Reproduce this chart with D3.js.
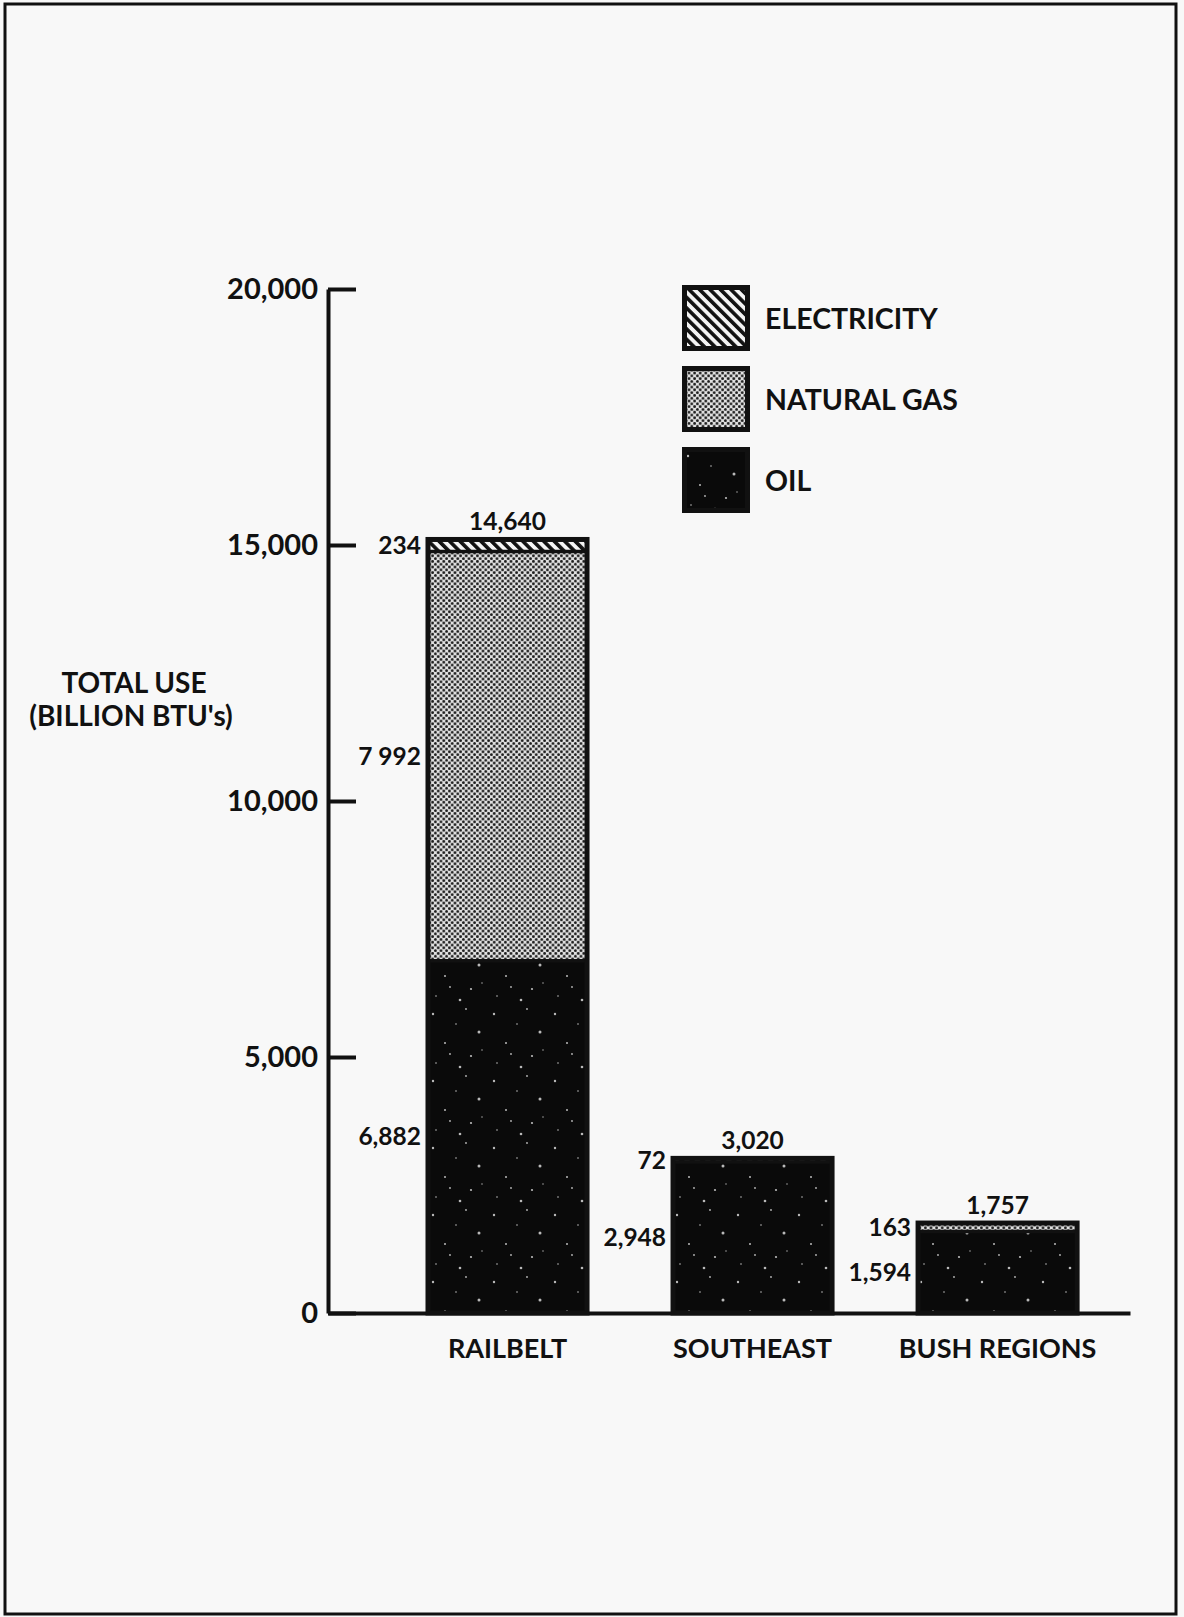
<!DOCTYPE html>
<html>
<head>
<meta charset="utf-8">
<script src="https://cdn.jsdelivr.net/npm/d3@7"></script>
<style>
  html, body { margin: 0; padding: 0; background: #f8f8f8; }
  svg { display: block; }
  text { font-family: Lato, "Open Sans", sans-serif; fill: #111; font-weight: 700; }
</style>
</head>
<body>
<svg id="chart" width="1184" height="1617"></svg>
<script>
// Energy use by region (billion BTU's), stacked by source
const categories = ["RAILBELT", "SOUTHEAST", "BUSH REGIONS"];
const oil = [6882, 2948, 1594];
const naturalGas = [7992, 0, 163];
const electricity = [234, 72, 0];
const totals = [14640, 3020, 1757];

const oilLabels = ["6,882", "2,948", "1,594"];
const gasLabels = ["7 992", "", "163"];
const elecLabels = ["234", "72", ""];
const totalLabels = ["14,640", "3,020", "1,757"];

const yTicks = [0, 5000, 10000, 15000, 20000];
const seriesKeys = ["oil", "gas", "elec"];
const legendNames = ["ELECTRICITY", "NATURAL GAS", "OIL"];
const legendKeys = ["elec", "gas", "oil"];

const rows = categories.map((c, i) => ({
  category: c, oil: oil[i], gas: naturalGas[i], elec: electricity[i],
  total: totals[i], totalLabel: totalLabels[i],
  labels: { oil: oilLabels[i], gas: gasLabels[i], elec: elecLabels[i] }
}));

const svg = d3.select("#chart");

// page frame
svg.append("rect").attr("x", 0).attr("y", 0).attr("width", 1184).attr("height", 1617).attr("fill", "#f8f8f8");
svg.append("rect").attr("x", 5).attr("y", 4).attr("width", 1171).attr("height", 1610)
  .attr("fill", "none").attr("stroke", "#111").attr("stroke-width", 3);

// fill patterns
const defs = svg.append("defs");
const hatch = defs.append("pattern").attr("id", "hatch")
  .attr("patternUnits", "userSpaceOnUse").attr("width", 7.4).attr("height", 7.4)
  .attr("patternTransform", "rotate(-45)");
hatch.append("rect").attr("width", 7.4).attr("height", 7.4).attr("fill", "#f4f4f4");
hatch.append("rect").attr("width", 3.6).attr("height", 7.4).attr("fill", "#111");

const dots = defs.append("pattern").attr("id", "dots")
  .attr("patternUnits", "userSpaceOnUse").attr("width", 5.6).attr("height", 5.6);
dots.append("rect").attr("width", 5.6).attr("height", 5.6).attr("fill", "#e0e0e0");
dots.append("circle").attr("cx", 1.4).attr("cy", 1.4).attr("r", 1.4).attr("fill", "#1a1a1a");
dots.append("circle").attr("cx", 4.2).attr("cy", 4.2).attr("r", 1.4).attr("fill", "#1a1a1a");

// dark ink with a few light flecks
const speck = defs.append("pattern").attr("id", "speck")
  .attr("patternUnits", "userSpaceOnUse").attr("width", 61).attr("height", 67);
speck.append("rect").attr("width", 61).attr("height", 67).attr("fill", "#0a0a0a");
[[6, 9, 1.2], [39, 4, 0.9], [52, 27, 1.5], [18, 38, 1.0], [44, 51, 1.1], [9, 58, 0.8],
 [29, 19, 0.8], [33, 62, 1.3], [55, 45, 0.7], [23, 49, 0.9]]
  .forEach(([cx, cy, r]) => speck.append("circle").attr("cx", cx).attr("cy", cy).attr("r", r)
    .attr("fill", "#d8d8d8").attr("opacity", 0.85));

const fills = { oil: "url(#speck)", gas: "url(#dots)", elec: "url(#hatch)" };

// scales
const y = d3.scaleLinear().domain([0, 20000]).range([1313, 289]);
const x = d3.scaleBand().domain(categories).range([328, 1130])
  .paddingInner(0.351).paddingOuter(0.312).align(0.654);

// axes
const yAxis = svg.append("g").attr("transform", "translate(328,0)")
  .call(d3.axisLeft(y).tickValues(yTicks).tickFormat(d3.format(","))
    .tickSizeInner(-28).tickSizeOuter(0).tickPadding(10));
yAxis.select(".domain").attr("stroke", "#111").attr("stroke-width", 4);
yAxis.selectAll(".tick line").attr("stroke", "#111").attr("stroke-width", 4);
yAxis.selectAll(".tick text").attr("font-size", 29).attr("font-weight", 700)
  .attr("font-family", "Lato, sans-serif").attr("fill", "#111");

const xAxis = svg.append("g").attr("transform", "translate(0,1313)")
  .call(d3.axisBottom(x).tickSize(0).tickPadding(26));
xAxis.select(".domain").attr("stroke", "#111").attr("stroke-width", 4);
xAxis.selectAll(".tick text").attr("font-size", 27).attr("font-weight", 700)
  .attr("font-family", "Lato, sans-serif").attr("fill", "#111");

// y title
const yTitle = svg.append("text").attr("text-anchor", "middle").attr("font-size", 28);
yTitle.append("tspan").attr("x", 134).attr("y", 693).text("TOTAL USE");
yTitle.append("tspan").attr("x", 131).attr("y", 726).text("(BILLION BTU's)");

// stacked bars
const stack = d3.stack().keys(seriesKeys)(rows);
const barG = svg.append("g");
stack.forEach(layer => {
  barG.append("g").selectAll("rect").data(layer.filter(d => d[1] > d[0])).join("rect")
    .attr("x", d => x(d.data.category))
    .attr("width", x.bandwidth())
    .attr("y", d => y(d[1]))
    .attr("height", d => y(d[0]) - y(d[1]))
    .attr("fill", fills[layer.key]);
});

// segment separators
stack.slice(0, -1).forEach(layer => {
  barG.append("g").selectAll("line").data(layer.filter(d => d[1] > d[0] && d[1] < d3.sum(seriesKeys, k => d.data[k]))).join("line")
    .attr("x1", d => x(d.data.category)).attr("x2", d => x(d.data.category) + x.bandwidth())
    .attr("y1", d => y(d[1])).attr("y2", d => y(d[1]))
    .attr("stroke", "#111").attr("stroke-width", 3.5);
});

// bar outlines
barG.append("g").selectAll("rect").data(rows).join("rect")
  .attr("x", d => x(d.category))
  .attr("width", x.bandwidth())
  .attr("y", d => y(d3.sum(seriesKeys, k => d[k])))
  .attr("height", d => y(0) - y(d3.sum(seriesKeys, k => d[k])))
  .attr("fill", "none").attr("stroke", "#111").attr("stroke-width", 5);

// segment value labels
const labelG = svg.append("g").attr("font-size", 24.5);
stack.forEach(layer => {
  labelG.append("g").selectAll("text")
    .data(layer.filter(d => d[1] > d[0] && d.data.labels[layer.key])).join("text")
    .attr("x", d => x(d.data.category) - 7)
    .attr("y", d => y((d[0] + d[1]) / 2))
    .attr("dy", "0.35em")
    .attr("text-anchor", "end")
    .text(d => d.data.labels[layer.key]);
});

// totals above bars
labelG.append("g").selectAll("text").data(rows).join("text")
  .attr("x", d => x(d.category) + x.bandwidth() / 2)
  .attr("y", d => y(d3.sum(seriesKeys, k => d[k])) - 18)
  .attr("dy", "0.35em")
  .attr("text-anchor", "middle")
  .text(d => d.totalLabel);

// legend
const legend = svg.append("g").attr("transform", "translate(682,285)");
legendKeys.forEach((k, i) => {
  const g = legend.append("g").attr("transform", `translate(0,${i * 81})`);
  g.append("rect").attr("x", 2.5).attr("y", 2.5).attr("width", 63).attr("height", 61)
    .attr("fill", fills[k]).attr("stroke", "#111").attr("stroke-width", 5);
  g.append("text").attr("x", 83).attr("y", 34).attr("dy", "0.35em")
    .attr("font-size", 28.5).text(legendNames[i]);
});
</script>
</body>
</html>
